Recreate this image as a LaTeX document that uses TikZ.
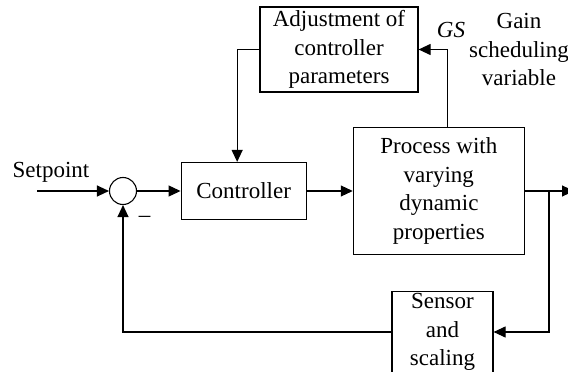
\documentclass[tikz,border=0pt]{standalone}
\usepackage{fontspec}
\setmainfont{Liberation Serif}
\usetikzlibrary{arrows.meta,positioning,calc}
\tikzset{
  sig arrow/.style={-{Triangle[length=12pt,width=11pt]},line width=1.1pt},
  block node/.style={draw,line width=1.2pt,align=center,inner sep=2pt},
  sum node/.style={draw,circle,line width=1.1pt,minimum size=27pt,inner sep=0pt},
  plain text/.style={align=center,inner sep=0pt}
}

\begin{document}
\begin{tikzpicture}[x=1pt,y=1pt,font=\fontsize{23}{28.5}\selectfont]
    \useasboundingbox (0,0) rectangle (568,-372);
    \node[sum node] (sum) at (123,-191) {};
    \node[block node,right=43.5pt of sum,minimum width=125pt,minimum height=57pt]
      (ctrl) {Controller};
    \node[block node,right=46pt of ctrl,minimum width=171pt,minimum height=127pt]
      (proc) {Process with\\varying\\dynamic\\properties};
    \node[block node,minimum width=158pt,minimum height=85pt]
      (adj) at (339,-49.5) {Adjustment of\\controller\\parameters};
    \node[block node,minimum width=101pt,minimum height=78pt]
      (sens) at (442.5,-332) {Sensor\\and\\scaling};
    \node[plain text] (setpt) at (51,-172) {Setpoint};
    \node[plain text] (gslbl) at (451,-30) {\itshape GS};
    \node[plain text] (gainlbl) at (519,-49.5) {Gain\\scheduling\\variable};
    \node[plain text] (minus) at (144.5,-216) {\_};
    \coordinate (in) at (37,-191);
    \coordinate (out) at (574,-191);
    \coordinate (branch) at (549,-191);
    \draw[sig arrow] (in) -- (sum);
    \draw[sig arrow] (sum) -- (ctrl);
    \draw[sig arrow] (ctrl) -- (proc);
    \draw[sig arrow] (proc) -- (out);
    \draw[sig arrow] (branch) |- (sens);
    \draw[sig arrow] (sens) -| (sum);
    \draw[sig arrow] ([xshift=8.5pt]proc.north) |- (adj);
    \draw[sig arrow] (adj) -| ([xshift=-6.5pt]ctrl.north);
  \end{tikzpicture}
\end{document}
